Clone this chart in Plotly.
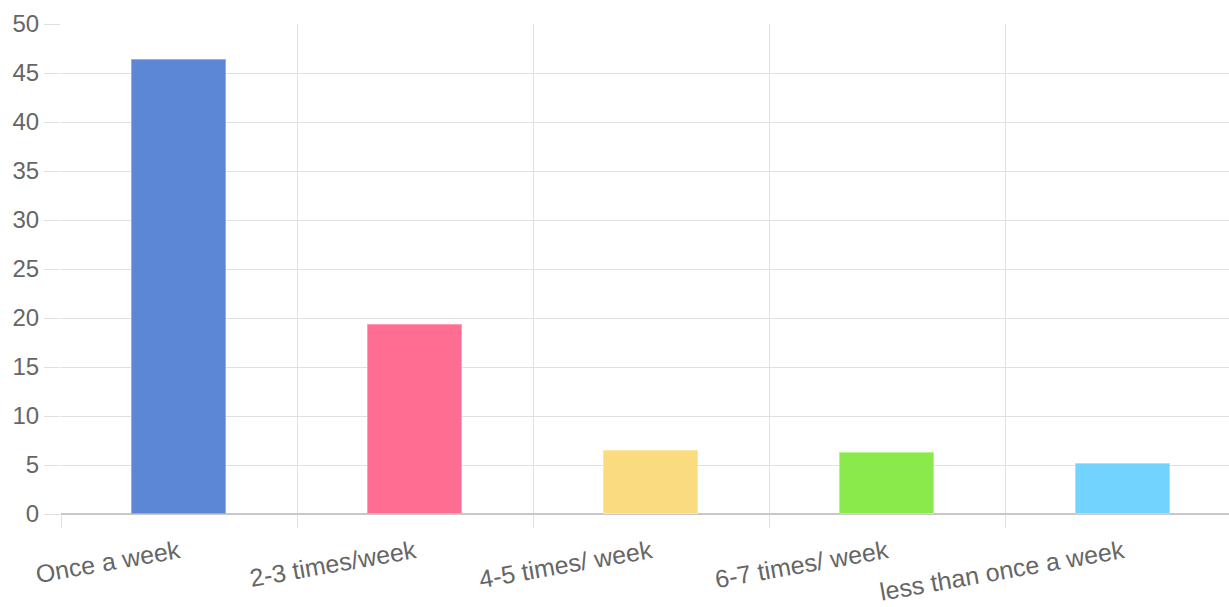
import plotly.graph_objects as go

# Survey answers: how often per week
categories = ["Once a week", "2-3 times/week", "4-5 times/ week", "6-7 times/ week", "less than once a week"]
values = [46.3, 19.3, 6.4, 6.2, 5.1]
bar_colors = ["#5b87d6", "#ff6e92", "#fbdb80", "#8aea4b", "#73d3ff"]
border_colors = ["#8fb0ea", "#ff9fb7", "#fde7a8", "#b3f58a", "#a3e3ff"]
y_ticks = [0, 5, 10, 15, 20, 25, 30, 35, 40, 45, 50]

positions = list(range(len(categories)))
boundaries = [p - 0.5 for p in positions] + [len(categories) - 0.5]

grid_color = "#e0e0e0"
font_color = "#666666"
x_range = [-0.5, 4.449]

fig = go.Figure()
fig.add_trace(go.Bar(
    x=positions,
    y=values,
    width=0.4,
    marker=dict(color=bar_colors, line=dict(color=border_colors, width=1)),
    hoverinfo="skip",
    xaxis="x",
    yaxis="y",
))
# invisible trace to activate the grid axis
fig.add_trace(go.Scatter(x=[boundaries[0]], y=[0], mode="markers",
                         marker=dict(opacity=0), xaxis="x2", yaxis="y",
                         hoverinfo="skip", showlegend=False))

fig.update_layout(
    width=1229,
    height=607,
    margin=dict(l=61, r=0, t=24, b=93),
    paper_bgcolor="white",
    plot_bgcolor="white",
    showlegend=False,
    font=dict(family="Liberation Sans, Arial, Helvetica, sans-serif", size=24, color=font_color),
    xaxis=dict(
        range=x_range,
        automargin=False,
        tickmode="array",
        tickvals=positions,
        ticktext=categories,
        tickangle=-10,
        showgrid=False,
        zeroline=False,
        ticks="outside",
        ticklen=13,
        tickcolor="rgba(0,0,0,0)",
        tickfont=dict(size=25, color=font_color),
    ),
    xaxis2=dict(
        range=x_range,
        automargin=False,
        overlaying="x",
        anchor="y",
        side="bottom",
        tickmode="array",
        tickvals=boundaries,
        showticklabels=False,
        showgrid=True,
        gridcolor=grid_color,
        gridwidth=1,
        zeroline=False,
        ticks="outside",
        ticklen=13,
        tickcolor=grid_color,
        tickwidth=1,
    ),
    yaxis=dict(
        range=[0, 50],
        automargin=False,
        tickmode="array",
        tickvals=y_ticks,
        showgrid=True,
        gridcolor=grid_color,
        gridwidth=1,
        zeroline=True,
        zerolinecolor="#c8c8c8",
        zerolinewidth=2,
        ticks="outside",
        ticklen=16,
        tickcolor=grid_color,
        tickfont=dict(size=24, color=font_color),
    ),
    bargap=0,
)

fig.write_html("out.html")
